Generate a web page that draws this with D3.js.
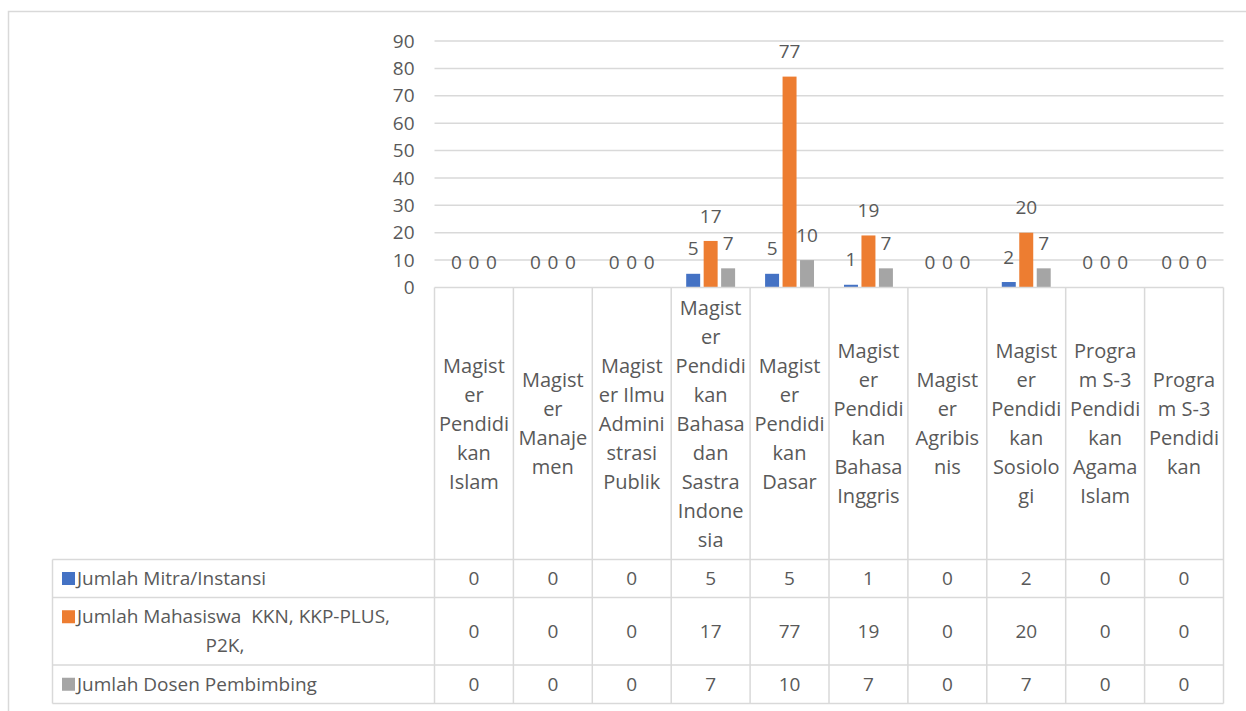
<!DOCTYPE html>
<html>
<head>
<meta charset="utf-8">
<script src="https://cdn.jsdelivr.net/npm/d3@7"></script>
<style>
  body { margin: 0; background: #fff; }
  svg { display: block; font-family: "Open Sans", sans-serif; }
  text { fill: #595959; white-space: pre; }
</style>
</head>
<body>
<svg width="1246" height="711"></svg>
<script>
// categories and wrapped labels as they appear in the table header
const categories = [
  'Magister Pendidikan Islam', 'Magister Manajemen', 'Magister Ilmu Administrasi Publik',
  'Magister Pendidikan Bahasa dan Sastra Indonesia', 'Magister Pendidikan Dasar',
  'Magister Pendidikan Bahasa Inggris', 'Magister Agribisnis', 'Magister Pendidikan Sosiologi',
  'Program S-3 Pendidikan Agama Islam', 'Program S-3 Pendidikan'
];
const categoryLines = [
  ['Magist', 'er', 'Pendidi', 'kan', 'Islam'],
  ['Magist', 'er', 'Manaje', 'men'],
  ['Magist', 'er Ilmu', 'Admini', 'strasi', 'Publik'],
  ['Magist', 'er', 'Pendidi', 'kan', 'Bahasa', 'dan', 'Sastra', 'Indone', 'sia'],
  ['Magist', 'er', 'Pendidi', 'kan', 'Dasar'],
  ['Magist', 'er', 'Pendidi', 'kan', 'Bahasa', 'Inggris'],
  ['Magist', 'er', 'Agribis', 'nis'],
  ['Magist', 'er', 'Pendidi', 'kan', 'Sosiolo', 'gi'],
  ['Progra', 'm S-3', 'Pendidi', 'kan', 'Agama', 'Islam'],
  ['Progra', 'm S-3', 'Pendidi', 'kan']
];

const seriesNames = ['Jumlah Mitra/Instansi', 'Jumlah Mahasiswa  KKN, KKP-PLUS, P2K,', 'Jumlah Dosen Pembimbing'];
const seriesLines = [['Jumlah Mitra/Instansi'], ['Jumlah Mahasiswa  KKN, KKP-PLUS,', 'P2K,'], ['Jumlah Dosen Pembimbing']];
const mitra = [0, 0, 0, 5, 5, 1, 0, 2, 0, 0];
const mahasiswa = [0, 0, 0, 17, 77, 19, 0, 20, 0, 0];
const dosen = [0, 0, 0, 7, 10, 7, 0, 7, 0, 0];
const seriesValues = [mitra, mahasiswa, dosen];
const colors = ['#4472C4', '#ED7D31', '#A5A5A5'];
const yTicks = [0, 10, 20, 30, 40, 50, 60, 70, 80, 90];

const svg = d3.select('svg');
const gridColor = '#d9d9d9';

// outer chart border
svg.append('rect')
  .attr('x', 8.5).attr('y', 11.5)
  .attr('width', 1260).attr('height', 720)
  .attr('fill', 'none').attr('stroke', gridColor).attr('stroke-width', 1.5);

const plotLeft = 434.5, plotRight = 1223.5;
const x = d3.scaleBand().domain(categories).range([plotLeft, plotRight]).padding(0);
const xSub = d3.scaleBand().domain(seriesNames)
  .range([x.bandwidth() * 0.19, x.bandwidth() * 0.81]).paddingInner(0.2);
const y = d3.scaleLinear().domain([0, 90]).range([287.5, 41]);

// gridlines
svg.append('g')
  .selectAll('line')
  .data(yTicks.filter(d => d > 0))
  .join('line')
  .attr('x1', plotLeft).attr('x2', plotRight)
  .attr('y1', d => y(d)).attr('y2', d => y(d))
  .attr('stroke', gridColor).attr('stroke-width', 1.5);

// y axis labels
const yAxis = svg.append('g')
  .attr('transform', `translate(${plotLeft - 20},0)`)
  .call(d3.axisLeft(y).tickValues(yTicks).tickSize(0).tickPadding(0));
yAxis.select('.domain').remove();
yAxis.selectAll('text')
  .attr('fill', '#595959').style('font-size', '19px')
  .style('font-family', '"Open Sans", sans-serif');

// bars
const flat = [];
categories.forEach((c, i) => {
  seriesNames.forEach((s, j) => flat.push({ cat: c, series: s, value: seriesValues[j][i], color: colors[j] }));
});

svg.append('g')
  .selectAll('rect')
  .data(flat)
  .join('rect')
  .attr('x', d => x(d.cat) + xSub(d.series))
  .attr('y', d => y(d.value))
  .attr('width', xSub.bandwidth())
  .attr('height', d => y(0) - y(d.value))
  .attr('fill', d => d.color);

// data labels
svg.append('g')
  .selectAll('text')
  .data(flat)
  .join('text')
  .attr('x', d => x(d.cat) + xSub(d.series) + xSub.bandwidth() / 2)
  .attr('y', d => y(d.value) - 25)
  .attr('dy', '0.35em')
  .attr('text-anchor', 'middle')
  .style('font-size', '19px')
  .text(d => d.value);

// data table
const headerBottom = 559.5;
const rowBounds = [headerBottom, 597.5, 665, 703.5];
const tableLeft = 52.5;
const table = svg.append('g').attr('stroke', gridColor).attr('stroke-width', 1.5);

table.selectAll('line.h')
  .data(rowBounds)
  .join('line')
  .attr('x1', tableLeft).attr('x2', plotRight)
  .attr('y1', d => d).attr('y2', d => d);

table.append('line')
  .attr('x1', plotLeft).attr('x2', plotRight)
  .attr('y1', y(0)).attr('y2', y(0));

table.selectAll('line.v')
  .data(categories.map(c => x(c)).concat([plotRight]))
  .join('line')
  .attr('x1', d => d).attr('x2', d => d)
  .attr('y1', y(0)).attr('y2', rowBounds[3]);

table.append('line')
  .attr('x1', tableLeft).attr('x2', tableLeft)
  .attr('y1', headerBottom).attr('y2', rowBounds[3]);

// category header labels
const lineH = 29;
const headerMid = (y(0) + headerBottom) / 2;
svg.append('g')
  .selectAll('text')
  .data(categories)
  .join('text')
  .attr('text-anchor', 'middle')
  .style('font-size', '20px')
  .each(function (c, i) {
    const lines = categoryLines[i];
    const top = headerMid - (lines.length - 1) * lineH / 2;
    d3.select(this).selectAll('tspan')
      .data(lines)
      .join('tspan')
      .attr('x', x(c) + x.bandwidth() / 2)
      .attr('y', (d, k) => top + k * lineH)
      .attr('dy', '0.35em')
      .text(d => d);
  });

// row labels with legend keys
seriesNames.forEach((s, j) => {
  const mid = (rowBounds[j] + rowBounds[j + 1]) / 2;
  const lines = seriesLines[j];
  const top = mid - (lines.length - 1) * lineH / 2;
  svg.append('rect')
    .attr('x', 62).attr('y', top - 6.5)
    .attr('width', 13).attr('height', 13)
    .attr('fill', colors[j]);
  lines.forEach((t, k) => {
    svg.append('text')
      .attr('x', k === 0 ? 77 : 225)
      .attr('y', top + k * lineH)
      .attr('dy', '0.35em')
      .attr('text-anchor', k === 0 ? 'start' : 'middle')
      .style('font-size', '19px')
      .text(t);
  });
  // values
  svg.append('g')
    .selectAll('text')
    .data(categories)
    .join('text')
    .attr('x', c => x(c) + x.bandwidth() / 2)
    .attr('y', mid)
    .attr('dy', '0.35em')
    .attr('text-anchor', 'middle')
    .style('font-size', '19px')
    .text((c, i) => seriesValues[j][i]);
});
</script>
</body>
</html>
